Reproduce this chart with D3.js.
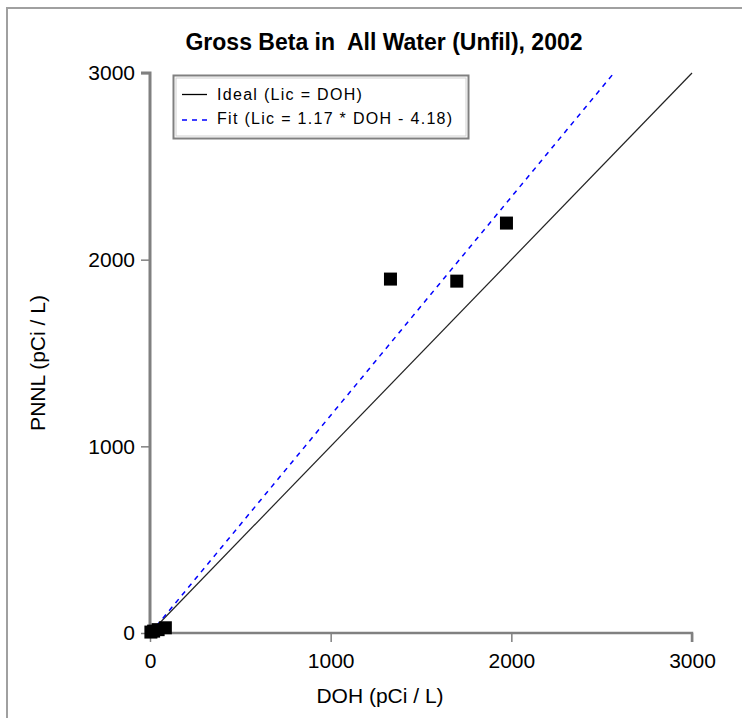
<!DOCTYPE html>
<html>
<head>
<meta charset="utf-8">
<script src="https://cdnjs.cloudflare.com/ajax/libs/d3/7.8.5/d3.min.js"></script>
<style>
  html, body { margin: 0; padding: 0; background: #fff; }
  svg { display: block; font-family: "Liberation Sans", Arial, sans-serif; }
</style>
</head>
<body>
<svg id="chart" width="742" height="718"></svg>
<script>
var dohValues  = [5, 20, 45, 85, 1331, 1698, 1973];
var pnnlValues = [5, 10, 18, 28, 1896, 1885, 2196];

var xTicks = [0, 1000, 2000, 3000];
var yTicks = [0, 1000, 2000, 3000];

var fitSlope = 1.17, fitIntercept = -4.18;
var legendLabels = ['Ideal (Lic = DOH)', 'Fit (Lic = 1.17 * DOH - 4.18)'];

var svg = d3.select('#chart');

// outer frame (left/top visible, rest runs off the window)
svg.append('rect')
  .attr('x', 7).attr('y', 8).attr('width', 760).attr('height', 730)
  .attr('fill', 'none').attr('stroke', '#a0a0a0').attr('stroke-width', 2);

var x = d3.scaleLinear().domain([0, 3000]).range([150, 692]);
var y = d3.scaleLinear().domain([0, 3000]).range([633, 73]);

svg.append('text')
  .attr('x', 384).attr('y', 50)
  .attr('text-anchor', 'middle')
  .attr('font-size', 23).attr('font-weight', 'bold')
  .style('white-space', 'pre')
  .text('Gross Beta in  All Water (Unfil), 2002');

// axes
var xAxis = svg.append('g')
  .attr('transform', 'translate(0,' + y(0) + ')')
  .call(d3.axisBottom(x).tickValues(xTicks).tickFormat(d3.format('d')).tickSize(9).tickPadding(11));
var yAxis = svg.append('g')
  .attr('transform', 'translate(' + x(0) + ',0)')
  .call(d3.axisLeft(y).tickValues(yTicks).tickFormat(d3.format('d')).tickSize(9).tickPadding(6));

[xAxis, yAxis].forEach(function(g) {
  g.select('.domain').attr('stroke', '#808080').attr('stroke-width', 3);
  g.selectAll('.tick line').attr('stroke', '#808080').attr('stroke-width', 1.5);
  g.selectAll('.tick text').attr('fill', '#000').attr('font-size', 21)
    .attr('font-family', '"Liberation Sans", Arial, sans-serif');
});
xAxis.select('.domain').attr('stroke-width', 2.5).attr('d', 'M' + x(0) + ',0H' + x(3000) + 'V9');
yAxis.select('.domain').attr('d', 'M-9,' + y(3000) + 'H0V' + y(0));

svg.append('text')
  .attr('x', 380).attr('y', 703)
  .attr('text-anchor', 'middle').attr('font-size', 21)
  .text('DOH (pCi / L)');
svg.append('text')
  .attr('transform', 'translate(45,363) rotate(-90)')
  .attr('text-anchor', 'middle').attr('font-size', 21)
  .text('PNNL (pCi / L)');

// ideal line
svg.append('line')
  .attr('x1', x(0)).attr('y1', y(0)).attr('x2', x(3000)).attr('y2', y(3000))
  .attr('stroke', '#222').attr('stroke-width', 1.2);

// fit line, stops at the top of the plot
var fitEnd = (3000 - fitIntercept) / fitSlope;
svg.append('line')
  .attr('x1', x(0)).attr('y1', y(fitIntercept))
  .attr('x2', x(fitEnd)).attr('y2', y(3000))
  .attr('stroke', '#0000ff').attr('stroke-width', 1.5)
  .attr('stroke-dasharray', '5,5');

// points
svg.append('g').selectAll('rect')
  .data(dohValues.map(function(d, i) { return [d, pnnlValues[i]]; }))
  .enter().append('rect')
  .attr('x', function(d) { return x(d[0]) - 6.5; })
  .attr('y', function(d) { return y(d[1]) - 6.5; })
  .attr('width', 13).attr('height', 13)
  .attr('fill', '#000');

// legend
var lg = svg.append('g').attr('transform', 'translate(173,75)');
lg.append('rect').attr('x', 0.5).attr('y', 0.5).attr('width', 295).attr('height', 63)
  .attr('fill', '#fff').attr('stroke', '#808080').attr('stroke-width', 2);
lg.append('rect').attr('x', 3).attr('y', 3).attr('width', 290).attr('height', 58)
  .attr('fill', 'none').attr('stroke', '#d0d0d0').attr('stroke-width', 1);
lg.append('line').attr('x1', 9).attr('x2', 34).attr('y1', 19.5).attr('y2', 19.5)
  .attr('stroke', '#000').attr('stroke-width', 1.3);
lg.append('line').attr('x1', 9).attr('x2', 36).attr('y1', 45).attr('y2', 45)
  .attr('stroke', '#0000ff').attr('stroke-width', 1.5).attr('stroke-dasharray', '5,5');
legendLabels.forEach(function(t, i) {
  lg.append('text').attr('x', 44).attr('y', 25 + i * 24)
    .attr('font-size', 16).attr('letter-spacing', 1.3).text(t);
});
</script>
</body>
</html>
